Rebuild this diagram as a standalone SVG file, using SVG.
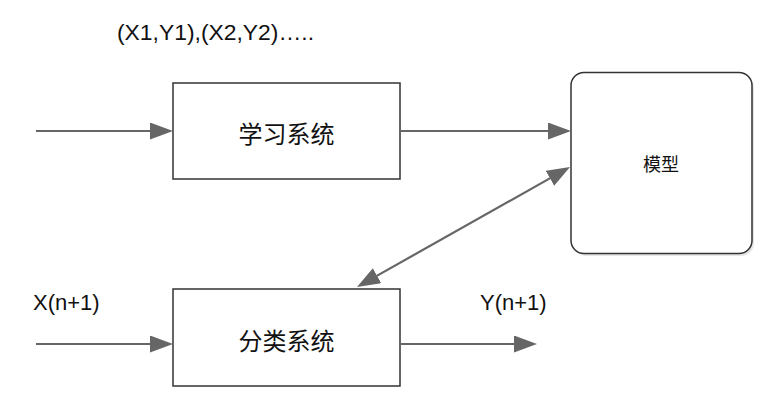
<svg xmlns="http://www.w3.org/2000/svg" width="767" height="413" viewBox="0 0 767 413">
<defs>
<style>
.box{fill:#fff;stroke:#333;stroke-width:1.5}
.conn{stroke:#666;stroke-width:2.2;fill:none}
.lbl{font-family:"Liberation Sans","Noto Sans CJK SC",sans-serif;font-size:22px;fill:#111}
.cn{font-family:"Noto Sans CJK SC","Liberation Sans",sans-serif;font-size:24px;fill:#111;text-anchor:middle;dominant-baseline:central}
</style>
<marker id="ah" markerUnits="userSpaceOnUse" markerWidth="24" markerHeight="18" refX="13" refY="8.5" orient="auto-start-reverse">
<path d="M0,0 L23,8.5 L0,17 z" fill="#666"/>
</marker>
</defs>
<rect width="767" height="413" fill="#fff"/>
<text class="lbl" x="117" y="40" textLength="197" lengthAdjust="spacingAndGlyphs">(X1,Y1),(X2,Y2)…..</text>
<text class="lbl" x="33" y="310">X(n+1)</text>
<text class="lbl" x="480" y="310">Y(n+1)</text>
<g id="learn">
<rect class="box" x="173" y="83" width="227" height="96"/>
<text class="cn" x="286.5" y="132">学习系统</text>
</g>
<g id="classify">
<rect class="box" x="173" y="289" width="227" height="97"/>
<text class="cn" x="286.5" y="339">分类系统</text>
</g>
<g id="model">
<rect x="573" y="75" width="181" height="181" rx="13" fill="#ccc" opacity="0.5"/>
<rect class="box" x="571" y="72.5" width="181" height="181" rx="13"/>
<text class="cn" x="661" y="163" style="font-size:18px">模型</text>
</g>
<g id="connectors">
<line class="conn" x1="36" y1="131" x2="163" y2="131" marker-end="url(#ah)"/>
<line class="conn" x1="400" y1="131" x2="561" y2="131" marker-end="url(#ah)"/>
<line class="conn" x1="36" y1="344" x2="163" y2="344" marker-end="url(#ah)"/>
<line class="conn" x1="400" y1="344" x2="527" y2="344" marker-end="url(#ah)"/>
<line class="conn" x1="365.7" y1="282.1" x2="561.3" y2="171.9" marker-start="url(#ah)" marker-end="url(#ah)"/>
</g>
</svg>
